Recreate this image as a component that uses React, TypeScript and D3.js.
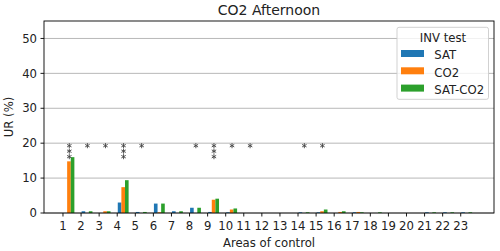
import React from 'react'
import * as d3 from 'd3'

const areas = d3.range(1, 24)
const satValues = [0, 0.5, 0, 3.0, 0.3, 2.7, 0.5, 1.5, 0.3, 0.2, 0, 0, 0, 0.2, 0.2, 0, 0.2, 0, 0, 0, 0.2, 0.2, 0.2]
const co2Values = [14.8, 0, 0.5, 7.4, 0, 0.2, 0, 0, 3.8, 1.0, 0, 0, 0, 0, 0.5, 0.3, 0.3, 0, 0, 0, 0, 0, 0]
const satCo2Values = [16.0, 0.5, 0.5, 9.4, 0.3, 2.7, 0.5, 1.5, 4.1, 1.3, 0, 0, 0, 0.2, 1.0, 0.5, 0.2, 0.2, 0, 0, 0.2, 0.2, 0.2]
const stars = [3, 1, 1, 3, 1, 0, 0, 1, 3, 1, 1, 0, 0, 1, 1, 0, 0, 0, 0, 0, 0, 0, 0]
const yTicks = [0, 10, 20, 30, 40, 50]

const seriesNames = ['SAT', 'CO2', 'SAT-CO2']
const seriesColors = ['#1f77b4', '#ff7f0e', '#2ca02c']
const seriesValues = [satValues, co2Values, satCo2Values]

const width = 500
const height = 251
const margin = { top: 21, left: 44, bottom: 38, right: 6 }
const font = '"DejaVu Sans", sans-serif'
const fs = 11.7

const App: React.FunctionComponent = () => {
  const x = d3
    .scaleLinear()
    .domain([-0.05, 24.84])
    .range([margin.left, width - margin.right])
  const y = d3
    .scaleLinear()
    .domain([0, 55])
    .range([height - margin.bottom, margin.top])

  const barW = 0.2
  const star = d3.symbol(d3.symbolAsterisk, 18)()

  const bars = seriesValues.flatMap((vals, s) =>
    vals.map((v, i) => ({
      x: x(areas[i] + s * barW + 0.03),
      w: x(barW) - x(0),
      y: y(v),
      h: y(0) - y(v),
      fill: seriesColors[s],
      key: `${s}-${i}`,
    })),
  )

  const x0 = margin.left
  const x1 = width - margin.right
  const yBottom = y(0)
  const legX = 397
  const legY = 27.3

  return (
    <svg
      width={width}
      height={height}
      style={{ position: 'absolute', left: 0, top: 0, background: '#fff' }}
      fontFamily={font}
    >
      <rect width={width} height={height} fill="#fff" />
      {yTicks.map(t => (
        <line key={t} x1={x0} x2={x1} y1={y(t)} y2={y(t)} stroke="#b0b0b0" strokeWidth={0.9} />
      ))}
      {bars.map(b => (
        <rect key={b.key} x={b.x} y={b.y} width={b.w} height={b.h} fill={b.fill} />
      ))}
      {stars.map((n, i) =>
        d3.range(n).map(k => (
          <path
            key={`${i}-${k}`}
            d={star || ''}
            transform={`translate(${x(areas[i] + 0.35)}, ${y(20) + 2.5 + k * 5.5})`}
            fill="none"
            stroke="#444"
            strokeWidth={0.9}
          />
        )),
      )}
      <rect x={x0} y={margin.top} width={x1 - x0} height={yBottom - margin.top} fill="none" stroke="#000" strokeWidth={0.9} />
      {yTicks.map(t => (
        <g key={t} transform={`translate(0, ${y(t)})`}>
          <line x1={x0 - 3.5} x2={x0} stroke="#000" strokeWidth={0.9} />
          <text x={x0 - 7} dy="0.36em" textAnchor="end" fontSize={fs} fill="#222">
            {t}
          </text>
        </g>
      ))}
      {areas.map(a => (
        <g key={a} transform={`translate(${x(a)}, ${yBottom})`}>
          <line y1={0} y2={3.5} stroke="#000" strokeWidth={0.9} />
          <text y={16.5} textAnchor="middle" fontSize={fs} fill="#222">
            {a}
          </text>
        </g>
      ))}
      <text x={(x0 + x1) / 2} y={15} textAnchor="middle" fontSize={14} fill="#222">
        CO2 Afternoon
      </text>
      <text x={(x0 + x1) / 2} y={246.5} textAnchor="middle" fontSize={fs} fill="#222">
        Areas of control
      </text>
      <text
        transform={`translate(13, ${(margin.top + yBottom) / 2}) rotate(-90)`}
        textAnchor="middle"
        fontSize={fs}
        fill="#222"
      >
        UR (%)
      </text>
      <g transform={`translate(${legX}, ${legY})`}>
        <rect width={91.5} height={72} rx={2} fill="#fff" fillOpacity={0.8} stroke="#ccc" strokeWidth={0.9} />
        <text x={46} y={14.4} textAnchor="middle" fontSize={fs} fill="#222">
          INV test
        </text>
        {seriesNames.map((name, i) => (
          <g key={name} transform={`translate(0, ${22.7 + i * 17.3})`}>
            <rect x={4} y={0} width={23} height={7} fill={seriesColors[i]} />
            <text x={37.3} y={9.3} fontSize={fs} fill="#222">
              {name}
            </text>
          </g>
        ))}
      </g>
    </svg>
  )
}

export default App
